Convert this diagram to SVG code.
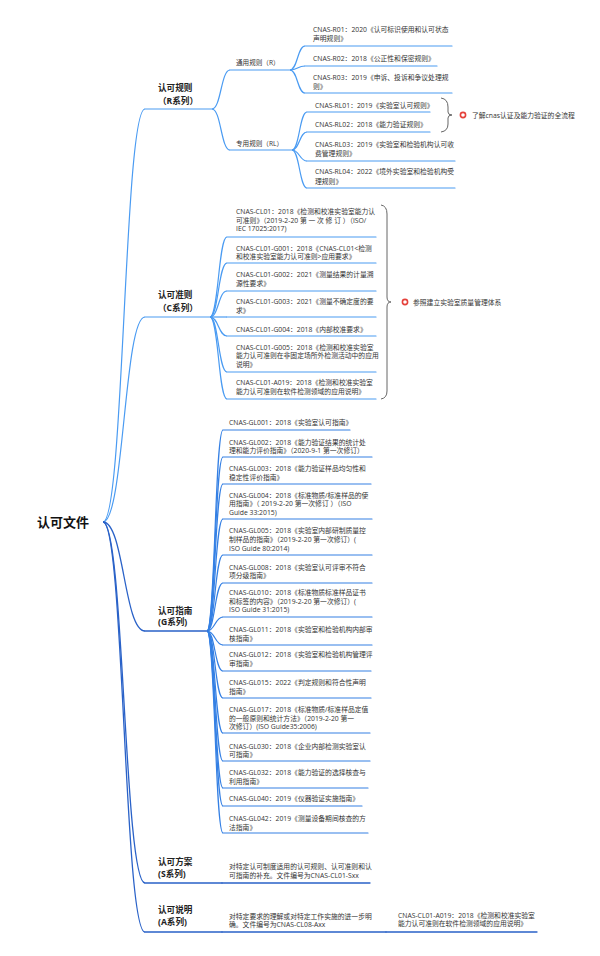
<svg xmlns="http://www.w3.org/2000/svg" width="600" height="956" viewBox="0 0 600 956">
<style>
text{font-family:"Open Sans","Noto Sans CJK SC",sans-serif;fill:#333}
.t{font-size:6.8px}
.l2{font-size:6.6px}
.l1{font-size:8.6px;font-weight:bold;fill:#222}
.root{font-size:13px;font-weight:bold;fill:#111}
.note{font-size:6.8px}
.ul{stroke:#4a9bf2;stroke-width:1.2;fill:none;stroke-linecap:round}
.ug{stroke:#3580e4;stroke-width:1.2;fill:none;stroke-linecap:round}
.ud{stroke:#2a62c8;stroke-width:1.3;fill:none;stroke-linecap:round}
.c1{stroke:#4a9bf2;stroke-width:1.2;fill:none}
.cg{stroke:#3580e4;stroke-width:1.2;fill:none}
.cd{stroke:#2a62c8;stroke-width:1.3;fill:none}
.br{stroke:#666;stroke-width:1;fill:none}
.ic{stroke:#e5413b;stroke-width:1.6;fill:#fff}
</style>
<rect width="600" height="956" fill="#fff"/>
<g id="connectors">
<path class="c1" d="M103 522C124 522 124 109 145 109"/>
<path class="c1" d="M103 522C124 522 124 317 145 317"/>
<path class="cd" d="M103 522C124 522 124 631 145 631"/>
<path class="cd" d="M103 522C124 522 124 883 145 883"/>
<path class="cd" d="M103 522C124 522 124 932 145 932"/>
<path class="c1" d="M212 109C221 109 221 70 230 70"/>
<path class="c1" d="M212 109C221 109 221 150 230 150"/>
<path class="c1" d="M290 70C297.5 70 297.5 46 305 46"/>
<path class="c1" d="M290 70C297.5 70 297.5 66 305 66"/>
<path class="c1" d="M290 70C297.5 70 297.5 93 305 93"/>
<path class="c1" d="M292 150C299.5 150 299.5 112 307 112"/>
<path class="c1" d="M292 150C299.5 150 299.5 132 307 132"/>
<path class="c1" d="M292 150C299.5 150 299.5 161 307 161"/>
<path class="c1" d="M292 150C299.5 150 299.5 188 307 188"/>
<path class="c1" d="M210 317C218.5 317 218.5 237 227 237"/>
<path class="c1" d="M210 317C218.5 317 218.5 263 227 263"/>
<path class="c1" d="M210 317C218.5 317 218.5 291 227 291"/>
<path class="c1" d="M210 317C218.5 317 218.5 317 227 317"/>
<path class="c1" d="M210 317C218.5 317 218.5 336 227 336"/>
<path class="c1" d="M210 317C218.5 317 218.5 372 227 372"/>
<path class="c1" d="M210 317C218.5 317 218.5 399 227 399"/>
<path class="cg" d="M207 631C215 631 215 430 223 430"/>
<path class="cg" d="M207 631C215 631 215 457 223 457"/>
<path class="cg" d="M207 631C215 631 215 484 223 484"/>
<path class="cg" d="M207 631C215 631 215 519 223 519"/>
<path class="cg" d="M207 631C215 631 215 555 223 555"/>
<path class="cg" d="M207 631C215 631 215 583 223 583"/>
<path class="cg" d="M207 631C215 631 215 617 223 617"/>
<path class="cg" d="M207 631C215 631 215 645 223 645"/>
<path class="cg" d="M207 631C215 631 215 671 223 671"/>
<path class="cg" d="M207 631C215 631 215 698 223 698"/>
<path class="cg" d="M207 631C215 631 215 733 223 733"/>
<path class="cg" d="M207 631C215 631 215 761 223 761"/>
<path class="cg" d="M207 631C215 631 215 788 223 788"/>
<path class="cg" d="M207 631C215 631 215 806 223 806"/>
<path class="cg" d="M207 631C215 631 215 833 223 833"/>
</g>
<g id="root"><text class="root" x="37" y="526.5">认可文件</text></g>
<g id="n-R">
<line class="ul" x1="145" y1="109" x2="212" y2="109"/>
<text class="l1" x="158" y="91">认可规则</text>
<text class="l1" x="158" y="103.5">（R系列）</text>
</g>
<g id="n-R-general">
<line class="ul" x1="230" y1="70" x2="290" y2="70"/>
<text class="l2" x="236" y="64.5">通用规则（R）</text>
</g>
<g id="n-R01"><line class="ul" x1="305" y1="46" x2="452" y2="46"/><text class="t" x="313" y="32">CNAS-R01：2020《认可标识使用和认可状态</text><text class="t" x="313" y="41">声明规则》</text></g>
<g id="n-R02"><line class="ul" x1="305" y1="66" x2="437" y2="66"/><text class="t" x="313" y="60.5">CNAS-R02：2018《公正性和保密规则》</text></g>
<g id="n-R03"><line class="ul" x1="305" y1="93" x2="452" y2="93"/><text class="t" x="313" y="80">CNAS-R03：2019《申诉、投诉和争议处理规</text><text class="t" x="313" y="88.5">则》</text></g>
<g id="n-R-special">
<line class="ul" x1="230" y1="150" x2="292" y2="150"/>
<text class="l2" x="236" y="145.5">专用规则（RL）</text>
</g>
<g id="n-RL01"><line class="ul" x1="307" y1="112" x2="430" y2="112"/><text class="t" x="315" y="107.5">CNAS-RL01：2019《实验室认可规则》</text></g>
<g id="n-RL02"><line class="ul" x1="307" y1="132" x2="430" y2="132"/><text class="t" x="315" y="126.5">CNAS-RL02：2018《能力验证规则》</text></g>
<g id="n-RL03"><line class="ul" x1="307" y1="161" x2="455" y2="161"/><text class="t" x="315" y="146.5">CNAS-RL03：2019《实验室和检验机构认可收</text><text class="t" x="315" y="156">费管理规则》</text></g>
<g id="n-RL04"><line class="ul" x1="307" y1="188" x2="455" y2="188"/><text class="t" x="315" y="174">CNAS-RL04：2022《境外实验室和检验机构受</text><text class="t" x="315" y="183.5">理规则》</text></g>
<g id="summary-RL">
<path class="br" d="M441 98Q448 99 448 107L448 112Q448 115 452 115Q448 115 448 118L448 124Q448 131 441 132"/>
<circle class="ic" cx="463" cy="115" r="2.6"/>
<text class="note" x="472" y="117.5">了解cnas认证及能力验证的全流程</text>
</g>
<g id="n-C">
<line class="ul" x1="145" y1="317" x2="210" y2="317"/>
<text class="l1" x="158" y="298">认可准则</text>
<text class="l1" x="158" y="310.5">（C系列）</text>
</g>
<g id="n-CL01"><line class="ul" x1="227" y1="237" x2="376" y2="237"/><text class="t" x="236" y="213.5">CNAS-CL01：2018《检测和校准实验室能力认</text><text class="t" x="236" y="222.5">可准则》（2019-2-20 第 一 次 修 订 ）（ISO/</text><text class="t" x="236" y="231">IEC 17025:2017)</text></g>
<g id="n-CL01-G001"><line class="ul" x1="227" y1="263" x2="376" y2="263"/><text class="t" x="236" y="250.5">CNAS-CL01-G001：2018《CNAS-CL01&lt;检测</text><text class="t" x="236" y="259">和校准实验室能力认可准则&gt;应用要求》</text></g>
<g id="n-CL01-G002"><line class="ul" x1="227" y1="291" x2="376" y2="291"/><text class="t" x="236" y="276.5">CNAS-CL01-G002：2021《测量结果的计量溯</text><text class="t" x="236" y="285.5">源性要求》</text></g>
<g id="n-CL01-G003"><line class="ul" x1="227" y1="317" x2="376" y2="317"/><text class="t" x="236" y="304">CNAS-CL01-G003：2021《测量不确定度的要</text><text class="t" x="236" y="312.5">求》</text></g>
<g id="n-CL01-G004"><line class="ul" x1="227" y1="336" x2="376" y2="336"/><text class="t" x="236" y="331.5">CNAS-CL01-G004：2018《内部校准要求》</text></g>
<g id="n-CL01-G005"><line class="ul" x1="227" y1="372" x2="376" y2="372"/><text class="t" x="236" y="349.5">CNAS-CL01-G005：2018《检测和校准实验室</text><text class="t" x="236" y="358">能力认可准则在非固定场所外检测活动中的应用</text><text class="t" x="236" y="366.5">说明》</text></g>
<g id="n-CL01-A019"><line class="ul" x1="227" y1="399" x2="376" y2="399"/><text class="t" x="236" y="384.5">CNAS-CL01-A019：2018《检测和校准实验室</text><text class="t" x="236" y="393.5">能力认可准则在软件检测领域的应用说明》</text></g>
<g id="summary-C">
<path class="br" d="M381 205Q387 206 387 214L387 297Q387 302 391 302Q387 302 387 307L387 391Q387 398 381 399"/>
<circle class="ic" cx="405" cy="302" r="2.6"/>
<text class="note" x="413" y="304.5">参照建立实验室质量管理体系</text>
</g>
<g id="n-G">
<line class="ud" x1="145" y1="631" x2="207" y2="631"/>
<text class="l1" x="158" y="613.5">认可指南</text>
<text class="l1" x="158" y="625">(G系列)</text>
</g>
<g id="n-GL001"><line class="ug" x1="223" y1="430" x2="350" y2="430"/><text class="t" x="229" y="424.5">CNAS-GL001：2018《实验室认可指南》</text></g>
<g id="n-GL002"><line class="ug" x1="223" y1="457" x2="372" y2="457"/><text class="t" x="229" y="444.5">CNAS-GL002：2018《能力验证结果的统计处</text><text class="t" x="229" y="453">理和能力评价指南》（2020-9-1 第一次修订）</text></g>
<g id="n-GL003"><line class="ug" x1="223" y1="484" x2="371" y2="484"/><text class="t" x="229" y="470.5">CNAS-GL003：2018《能力验证样品均匀性和</text><text class="t" x="229" y="479.5">稳定性评价指南》</text></g>
<g id="n-GL004"><line class="ug" x1="223" y1="519" x2="372" y2="519"/><text class="t" x="229" y="497.5">CNAS-GL004：2018《标准物质/标准样品的使</text><text class="t" x="229" y="506">用指南》（ 2019-2-20 第一次修订 ）（ISO</text><text class="t" x="229" y="514.5">Guide 33:2015)</text></g>
<g id="n-GL005"><line class="ug" x1="223" y1="555" x2="372" y2="555"/><text class="t" x="229" y="532.5">CNAS-GL005：2018《实验室内部研制质量控</text><text class="t" x="229" y="541.5">制样品的指南》（2019-2-20 第一次修订）(</text><text class="t" x="229" y="550.5">ISO Guide 80:2014)</text></g>
<g id="n-GL008"><line class="ug" x1="223" y1="583" x2="372" y2="583"/><text class="t" x="229" y="569.5">CNAS-GL008：2018《实验室认可评审不符合</text><text class="t" x="229" y="578">项分级指南》</text></g>
<g id="n-GL010"><line class="ug" x1="223" y1="617" x2="372" y2="617"/><text class="t" x="229" y="594.5">CNAS-GL010：2018《标准物质标准样品证书</text><text class="t" x="229" y="603.5">和标签的内容》（2019-2-20 第一次修订）(</text><text class="t" x="229" y="612">ISO Guide 31:2015)</text></g>
<g id="n-GL011"><line class="ug" x1="223" y1="645" x2="372" y2="645"/><text class="t" x="229" y="631.5">CNAS-GL011：2018《实验室和检验机构内部审</text><text class="t" x="229" y="640.5">核指南》</text></g>
<g id="n-GL012"><line class="ug" x1="223" y1="671" x2="371" y2="671"/><text class="t" x="229" y="656.5">CNAS-GL012：2018《实验室和检验机构管理评</text><text class="t" x="229" y="665.5">审指南》</text></g>
<g id="n-GL015"><line class="ug" x1="223" y1="698" x2="371" y2="698"/><text class="t" x="229" y="684.5">CNAS-GL015：2022《判定规则和符合性声明</text><text class="t" x="229" y="693.5">指南》</text></g>
<g id="n-GL017"><line class="ug" x1="223" y1="733" x2="370" y2="733"/><text class="t" x="229" y="711.5">CNAS-GL017：2018《标准物质/标准样品定值</text><text class="t" x="229" y="720.5">的一般原则和统计方法》（2019-2-20 第一</text><text class="t" x="229" y="729">次修订）(ISO Guide35:2006)</text></g>
<g id="n-GL030"><line class="ug" x1="223" y1="761" x2="370" y2="761"/><text class="t" x="229" y="748.5">CNAS-GL030：2018《企业内部检测实验室认</text><text class="t" x="229" y="757">可指南》</text></g>
<g id="n-GL032"><line class="ug" x1="223" y1="788" x2="368" y2="788"/><text class="t" x="229" y="774.5">CNAS-GL032：2018《能力验证的选择核查与</text><text class="t" x="229" y="783.5">利用指南》</text></g>
<g id="n-GL040"><line class="ug" x1="223" y1="806" x2="362" y2="806"/><text class="t" x="229" y="800.5">CNAS-GL040：2019《仪器验证实施指南》</text></g>
<g id="n-GL042"><line class="ug" x1="223" y1="833" x2="368" y2="833"/><text class="t" x="229" y="820.5">CNAS-GL042：2019《测量设备期间核查的方</text><text class="t" x="229" y="829.5">法指南》</text></g>
<g id="n-S">
<line class="ud" x1="145" y1="883" x2="222" y2="883"/>
<text class="l1" x="158" y="865">认可方案</text>
<text class="l1" x="158" y="877">(S系列)</text>
</g>
<g id="n-S-desc"><line class="ud" x1="222" y1="883" x2="370" y2="883"/><text class="t" x="229" y="869">对特定认可制度适用的认可规则、认可准则和认</text><text class="t" x="229" y="878">可指南的补充。文件编号为CNAS-CL01-Sxx</text></g>
<g id="n-A">
<line class="ud" x1="145" y1="932" x2="222" y2="932"/>
<text class="l1" x="158" y="913">认可说明</text>
<text class="l1" x="158" y="924.5">(A系列)</text>
</g>
<g id="n-A-desc"><line class="ud" x1="222" y1="932" x2="386" y2="932"/><text class="t" x="229" y="918.5">对特定要求的理解或对特定工作实施的进一步明</text><text class="t" x="229" y="927">确。文件编号为CNAS-CL08-Axx</text></g>
<g id="n-A-A019"><line class="ud" x1="386" y1="932" x2="537" y2="932"/><text class="t" x="398" y="917.5">CNAS-CL01-A019：2018《检测和校准实验室</text><text class="t" x="398" y="926">能力认可准则在软件检测领域的应用说明》</text></g>
</svg>
